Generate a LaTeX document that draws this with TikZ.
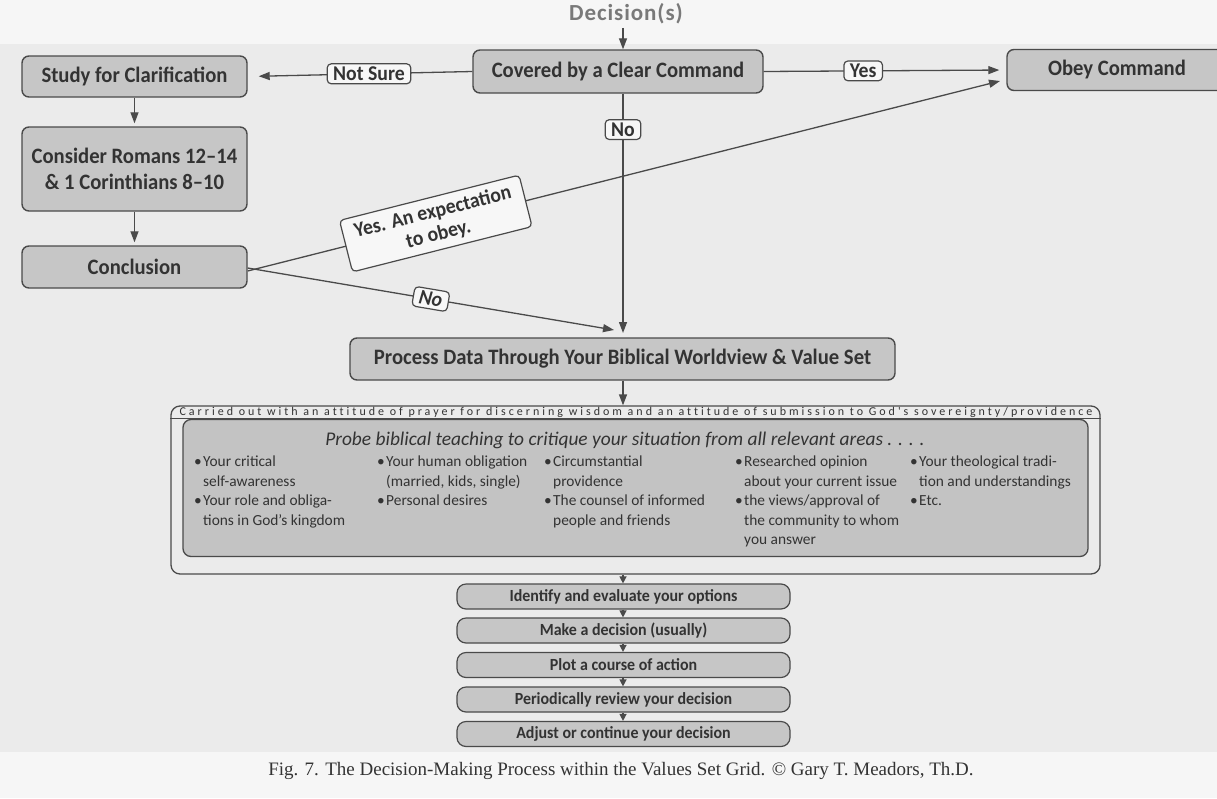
\documentclass[tikz,border=0pt]{standalone}
\usepackage{fontspec}
\setmainfont{Carlito}
\newfontfamily\capfont{Liberation Serif}
\newfontfamily\spacedfont{Carlito}[LetterSpace=25,Ligatures={NoCommon}]
\newfontfamily\boxfont{Carlito}[FakeStretch=0.94]
\newfontfamily\decfont{Carlito}[LetterSpace=4]
\usetikzlibrary{arrows.meta}
\definecolor{bg}{HTML}{EBEBEB}
\definecolor{bgtop}{HTML}{F6F6F6}
\definecolor{boxfill}{HTML}{C6C6C6}
\definecolor{innerfill}{HTML}{C3C3C3}
\definecolor{inkc}{HTML}{333333}
\definecolor{edgec}{HTML}{4A4A4A}
\definecolor{lblfill}{HTML}{F7F7F7}
\newcommand\bitem{\makebox[9pt][l]{•}}
\newcommand\bcont{\hspace*{9pt}}
\tikzset{
  mainbox/.style={draw=edgec, line width=1.4pt, fill=boxfill, rounded corners=7pt,
    text=inkc, font=\boxfont\fontsize{22}{25}\selectfont\bfseries, inner sep=0pt, align=center},
  lbl/.style={draw=edgec, line width=1.2pt, fill=lblfill, rounded corners=4pt, text=inkc,
    font=\boxfont\fontsize{21}{23}\selectfont\bfseries, inner xsep=6pt, inner ysep=3pt, align=center},
  conn/.style={draw=edgec, line width=1.3pt, -{Triangle[length=11pt,width=8pt]}},
  stepconn/.style={draw=edgec, line width=1.3pt, -{Triangle[length=7pt,width=7pt]}},
  stepbox/.style={draw=edgec, line width=1.2pt, fill=boxfill, rounded corners=9pt,
    minimum width=333pt, minimum height=25pt, font=\boxfont\fontsize{17}{19}\selectfont\bfseries,
    text=inkc, inner sep=0pt},
  bullets/.style={anchor=north west, inner sep=0pt, text=inkc, font=\fontsize{15.4}{19.5}\selectfont},
}
\begin{document}
\begin{tikzpicture}[x=1pt,y=-1pt]
\fill[bg] (0,0) rectangle (1217,798);
\fill[bgtop] (0,0) rectangle (1217,44);
\fill[bgtop] (0,752) rectangle (1217,798);
\useasboundingbox (0,0) rectangle (1217,798);

\coordinate (vx) at (623,0);

% top
\node[text=gray!95!black, font=\decfont\fontsize{23}{25}\selectfont\bfseries] (dec) at (626,14) {Decision(s)};
\node[mainbox, minimum width=290pt, minimum height=43pt] (cov) at (618,71.5) {Covered by a Clear Command};
\node[mainbox, minimum width=225pt, minimum height=41pt] (study) at (134.5,76.5) {Study for Clarification};
\node[mainbox, minimum width=225pt, minimum height=84pt] (rom) at (134.5,169) {Consider Romans 12–14\\[1pt] \& 1 Corinthians 8–10};
\node[mainbox, minimum width=225pt, minimum height=42pt] (conc) at (134.5,267) {Conclusion};
\node[mainbox, minimum width=220pt, minimum height=41pt] (obey) at (1117,70) {Obey Command};
\node[mainbox, minimum width=545pt, minimum height=42pt] (proc) at (622.5,359) {Process Data Through Your Biblical Worldview \& Value Set};

\coordinate (obeyin) at (1000,81);
\coordinate (merge) at (623,333);
\coordinate (mergeL) at (614,330);

\draw[conn] (dec.south -| vx) -- (cov.north -| vx);
\draw[conn, shorten >=11pt] (cov.west) -- node[lbl, pos=0.46, name=lns] {Not Sure} (study.east);
\draw[conn, shorten >=7pt] (cov.east) -- node[lbl, pos=0.41, name=lyes] {Yes} (obey.west);
\draw[conn] (cov.south -| vx) -- node[lbl, pos=0.15, name=lno] {No} (merge);
\draw[conn, shorten >=3pt] (study) -- (rom);
\draw[conn, shorten >=3pt] (rom) -- (conc);
\draw[conn] ([yshift=-4pt]conc.east) -- node[lbl, sloped, pos=0.25, name=lexp, inner xsep=12pt, inner ysep=6pt,
  font=\boxfont\fontsize{21}{23}\selectfont\bfseries] {Yes. An expectation\\to obey.} (obeyin);
\draw[conn] ([yshift=-1pt]conc.east) -- node[lbl, sloped, pos=0.5, name=lno2, font=\boxfont\fontsize{21}{23}\selectfont\bfseries\itshape] {No} (mergeL);

% outer grid box
\node[draw=edgec, line width=1.3pt, rounded corners=9pt, minimum width=929pt, minimum height=168pt, inner sep=0pt] (outer) at (635.5,490) {};
\draw[conn] (proc.south -| vx) -- (outer.north -| vx);
\node[text=inkc, inner sep=0pt, font=\spacedfont\fontsize{12}{13}\selectfont] (carried) at (636,412)
  {Carried out with an attitude of prayer for discerning wisdom and an attitude of submission to God's sovereignty/providence};
\draw[draw=edgec, line width=1pt] (outer.west |- 0,418.5) -- (outer.east |- 0,418.5);
\node[draw=edgec, line width=1.3pt, fill=innerfill, rounded corners=8pt, minimum width=905pt, minimum height=137pt, inner sep=0pt] (inner) at (635.5,488) {};
\node[text=inkc, inner sep=0pt, font=\fontsize{19.4}{22}\selectfont\itshape] (probe) at (625,440)
  {Probe biblical teaching to critique your situation from all relevant areas . . . .};

\node[bullets] (c1) at (194,453) {\begin{tabular}{@{}l@{}}
\bitem Your critical\\ \bcont self-awareness\\ \bitem Your role and obliga-\\ \bcont tions in God's kingdom\end{tabular}};
\node[bullets] (c2) at (377,453) {\begin{tabular}{@{}l@{}}
\bitem Your human obligation\\ \bcont (married, kids, single)\\ \bitem Personal desires\end{tabular}};
\node[bullets] (c3) at (544,453) {\begin{tabular}{@{}l@{}}
\bitem Circumstantial\\ \bcont providence\\ \bitem The counsel of informed\\ \bcont people and friends\end{tabular}};
\node[bullets] (c4) at (735,453) {\begin{tabular}{@{}l@{}}
\bitem Researched opinion\\ \bcont about your current issue\\ \bitem the views/approval of\\ \bcont the community to whom\\ \bcont you answer\end{tabular}};
\node[bullets] (c5) at (910,453) {\begin{tabular}{@{}l@{}}
\bitem Your theological tradi-\\ \bcont tion and understandings\\ \bitem Etc.\end{tabular}};

% steps
\node[stepbox] (s1) at (623.5,596.5) {Identify and evaluate your options};
\node[stepbox] (s2) at (623.5,630.5) {Make a decision (usually)};
\node[stepbox] (s3) at (623.5,665) {Plot a course of action};
\node[stepbox] (s4) at (623.5,699.5) {Periodically review your decision};
\node[stepbox] (s5) at (623.5,734) {Adjust or continue your decision};
\draw[stepconn] (outer.south -| vx) -- (s1.north -| vx);
\draw[stepconn] (s1.south -| vx) -- (s2.north -| vx);
\draw[stepconn] (s2.south -| vx) -- (s3.north -| vx);
\draw[stepconn] (s3.south -| vx) -- (s4.north -| vx);
\draw[stepconn] (s4.south -| vx) -- (s5.north -| vx);

\node[text=inkc, inner sep=0pt, font=\capfont\fontsize{19}{21}\selectfont] (cap) at (621,771)
  {Fig. 7. The Decision-Making Process within the Values Set Grid. © Gary T. Meadors, Th.D.};
\end{tikzpicture}
\end{document}
